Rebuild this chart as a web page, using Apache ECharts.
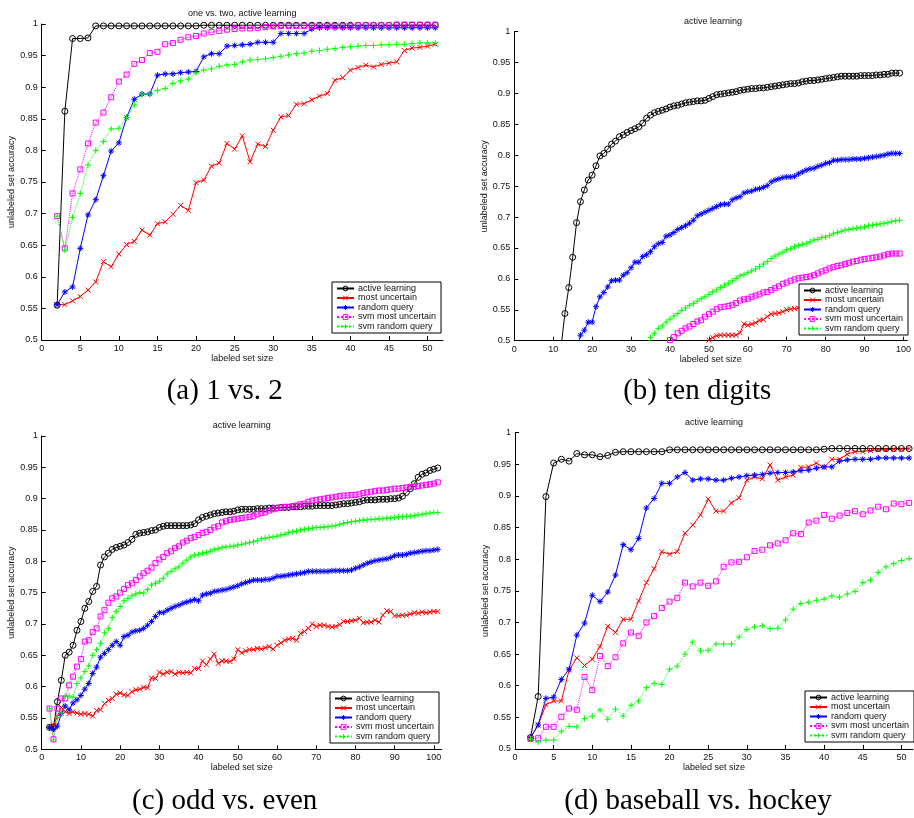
<!DOCTYPE html>
<html>
<head>
<meta charset="utf-8">
<script src="https://cdn.jsdelivr.net/npm/echarts@6/dist/echarts.min.js"></script>
<style>
  html, body { margin: 0; background: #fff; }
  #chart { width: 914px; height: 818px; }
</style>
</head>
<body>
<div id="chart"></div>
<script>
const seriesNames = ['active learning', 'most uncertain', 'random query', 'svm most uncertain', 'svm random query'];
const xTicks50 = [0, 5, 10, 15, 20, 25, 30, 35, 40, 45, 50];
const xTicks100 = [0, 10, 20, 30, 40, 50, 60, 70, 80, 90, 100];

// (a) 1 vs. 2 -- every curve starts at labeled set size 2
const aStart = 2;
const aActive = [0.555, 0.862, 0.977, 0.977, 0.978, 0.997, 0.997, 0.997, 0.997, 0.997,
  0.997, 0.997, 0.997, 0.997, 0.997, 0.997, 0.997, 0.997, 0.997, 0.998,
  0.998, 0.998, 0.998, 0.998, 0.998, 0.998, 0.998, 0.998, 0.998, 0.998,
  0.998, 0.998, 0.998, 0.998, 0.998, 0.998, 0.998, 0.998, 0.998, 0.998,
  0.998, 0.998, 0.998, 0.998, 0.998, 0.998, 0.998, 0.998, 0.998, 0.998];
const aUncertain = [0.556, 0.556, 0.562, 0.569, 0.579, 0.592, 0.624, 0.616, 0.636, 0.651,
  0.656, 0.674, 0.666, 0.684, 0.687, 0.699, 0.713, 0.705, 0.749, 0.753,
  0.775, 0.780, 0.811, 0.802, 0.823, 0.782, 0.810, 0.806, 0.832, 0.853,
  0.855, 0.873, 0.874, 0.880, 0.886, 0.890, 0.911, 0.915, 0.927, 0.931,
  0.935, 0.932, 0.936, 0.938, 0.940, 0.958, 0.962, 0.963, 0.965, 0.968];
const aRandom = [0.556, 0.576, 0.584, 0.645, 0.698, 0.722, 0.760, 0.799, 0.812, 0.852,
  0.881, 0.889, 0.889, 0.919, 0.921, 0.921, 0.923, 0.924, 0.925, 0.948,
  0.953, 0.953, 0.965, 0.966, 0.967, 0.968, 0.971, 0.971, 0.971, 0.985,
  0.985, 0.985, 0.985, 0.992, 0.994, 0.994, 0.994, 0.994, 0.994, 0.994,
  0.994, 0.994, 0.994, 0.994, 0.994, 0.994, 0.994, 0.994, 0.994, 0.994];
const aSvmUncertain = [0.696, 0.645, 0.732, 0.770, 0.811, 0.844, 0.860, 0.884, 0.909, 0.920,
  0.937, 0.943, 0.954, 0.956, 0.968, 0.970, 0.975, 0.979, 0.981, 0.985,
  0.987, 0.989, 0.991, 0.992, 0.993, 0.993, 0.994, 0.995, 0.996, 0.997,
  0.997, 0.997, 0.997, 0.997, 0.997, 0.997, 0.997, 0.997, 0.997, 0.998,
  0.998, 0.998, 0.998, 0.998, 0.999, 0.999, 0.999, 0.999, 0.999, 0.999];
const aSvmRandom = [0.696, 0.642, 0.694, 0.732, 0.777, 0.800, 0.814, 0.834, 0.835, 0.852,
  0.872, 0.889, 0.889, 0.895, 0.898, 0.906, 0.910, 0.913, 0.923, 0.927,
  0.929, 0.933, 0.935, 0.936, 0.940, 0.943, 0.944, 0.945, 0.947, 0.949,
  0.951, 0.953, 0.954, 0.957, 0.958, 0.960, 0.961, 0.963, 0.964, 0.965,
  0.966, 0.966, 0.967, 0.967, 0.968, 0.968, 0.969, 0.970, 0.970, 0.970];

// (b) ten digits -- curves enter the visible range at different sizes
const bActiveStart = 12;
const bActive = [0.489, 0.544, 0.586, 0.635, 0.691, 0.725, 0.744, 0.760, 0.768, 0.783,
  0.799, 0.803, 0.810, 0.818, 0.823, 0.830, 0.833, 0.837, 0.840, 0.843,
  0.846, 0.852, 0.860, 0.865, 0.869, 0.871, 0.873, 0.875, 0.878, 0.880,
  0.881, 0.883, 0.885, 0.886, 0.887, 0.888, 0.888, 0.889, 0.892, 0.895,
  0.898, 0.899, 0.900, 0.901, 0.902, 0.903, 0.905, 0.906, 0.907, 0.908,
  0.908, 0.909, 0.909, 0.910, 0.911, 0.912, 0.913, 0.914, 0.915, 0.916,
  0.916, 0.917, 0.919, 0.920, 0.921, 0.921, 0.922, 0.923, 0.924, 0.925,
  0.926, 0.927, 0.928, 0.928, 0.928, 0.928, 0.928, 0.929, 0.929, 0.929,
  0.929, 0.930, 0.930, 0.931, 0.931, 0.933, 0.933, 0.933];
const bUncertainStart = 50;
const bUncertain = [0.501, 0.505, 0.508, 0.509, 0.509, 0.509, 0.509, 0.509, 0.513, 0.527,
  0.525, 0.527, 0.529, 0.533, 0.534, 0.539, 0.543, 0.544, 0.545, 0.547,
  0.550, 0.551, 0.552, 0.553, 0.555, 0.556, 0.557, 0.558, 0.559, 0.561,
  0.562, 0.563, 0.565, 0.566, 0.567, 0.568, 0.569, 0.570, 0.571, 0.572,
  0.573, 0.574, 0.575, 0.576, 0.577, 0.578, 0.579, 0.580, 0.581, 0.582];
const bRandomStart = 16;
const bRandom = [0.485, 0.509, 0.517, 0.530, 0.530, 0.555, 0.571, 0.578, 0.587, 0.597,
  0.598, 0.598, 0.606, 0.610, 0.618, 0.627, 0.627, 0.636, 0.639, 0.644,
  0.652, 0.657, 0.659, 0.669, 0.671, 0.675, 0.680, 0.683, 0.686, 0.690,
  0.695, 0.702, 0.705, 0.708, 0.711, 0.714, 0.717, 0.720, 0.721, 0.721,
  0.728, 0.731, 0.733, 0.739, 0.741, 0.742, 0.745, 0.746, 0.748, 0.751,
  0.757, 0.760, 0.762, 0.764, 0.765, 0.765, 0.766, 0.770, 0.773, 0.776,
  0.778, 0.779, 0.782, 0.784, 0.787, 0.788, 0.792, 0.792, 0.793, 0.793,
  0.793, 0.794, 0.794, 0.794, 0.795, 0.796, 0.797, 0.798, 0.799, 0.800,
  0.802, 0.803, 0.803, 0.803];
const bSvmUncertainStart = 40;
const bSvmUncertain = [0.501, 0.506, 0.512, 0.516, 0.520, 0.523, 0.527, 0.531, 0.533, 0.539,
  0.543, 0.547, 0.551, 0.554, 0.555, 0.556, 0.558, 0.561, 0.565, 0.567,
  0.568, 0.571, 0.573, 0.575, 0.578, 0.579, 0.582, 0.585, 0.588, 0.592,
  0.594, 0.597, 0.599, 0.601, 0.602, 0.603, 0.604, 0.606, 0.609, 0.612,
  0.614, 0.617, 0.619, 0.621, 0.622, 0.624, 0.626, 0.628, 0.629, 0.631,
  0.632, 0.633, 0.634, 0.635, 0.636, 0.638, 0.640, 0.641, 0.641, 0.641];
const bSvmRandomStart = 34;
const bSvmRandom = [0.494, 0.505, 0.512, 0.520, 0.524, 0.530, 0.535, 0.540, 0.544, 0.549,
  0.553, 0.557, 0.560, 0.564, 0.568, 0.571, 0.575, 0.579, 0.582, 0.586,
  0.590, 0.593, 0.597, 0.601, 0.605, 0.607, 0.610, 0.613, 0.616, 0.620,
  0.624, 0.628, 0.633, 0.637, 0.640, 0.643, 0.647, 0.649, 0.652, 0.654,
  0.656, 0.657, 0.660, 0.663, 0.664, 0.667, 0.668, 0.670, 0.673, 0.675,
  0.677, 0.679, 0.680, 0.681, 0.682, 0.683, 0.684, 0.686, 0.687, 0.688,
  0.689, 0.690, 0.691, 0.693, 0.694, 0.695];

// (c) odd vs. even -- sizes 2..101
const cStart = 2;
const cActive = [0.535, 0.535, 0.576, 0.610, 0.650, 0.655, 0.666, 0.690, 0.704, 0.725,
  0.736, 0.752, 0.760, 0.794, 0.807, 0.813, 0.819, 0.822, 0.824, 0.826,
  0.830, 0.835, 0.843, 0.845, 0.846, 0.847, 0.849, 0.850, 0.854, 0.856,
  0.857, 0.857, 0.857, 0.857, 0.857, 0.857, 0.858, 0.860, 0.866, 0.870,
  0.872, 0.874, 0.876, 0.877, 0.878, 0.879, 0.879, 0.880, 0.882, 0.883,
  0.883, 0.883, 0.883, 0.884, 0.884, 0.884, 0.885, 0.885, 0.885, 0.886,
  0.886, 0.886, 0.887, 0.887, 0.887, 0.888, 0.888, 0.888, 0.889, 0.889,
  0.889, 0.889, 0.889, 0.890, 0.891, 0.892, 0.892, 0.893, 0.894, 0.895,
  0.897, 0.898, 0.898, 0.898, 0.899, 0.899, 0.899, 0.900, 0.900, 0.901,
  0.904, 0.910, 0.916, 0.924, 0.934, 0.939, 0.941, 0.945, 0.947, 0.949];
const cUncertain = [0.535, 0.539, 0.552, 0.567, 0.560, 0.557, 0.560, 0.558, 0.556, 0.557,
  0.556, 0.553, 0.562, 0.563, 0.573, 0.578, 0.581, 0.588, 0.590, 0.587,
  0.586, 0.592, 0.595, 0.596, 0.599, 0.598, 0.614, 0.613, 0.623, 0.620,
  0.623, 0.624, 0.620, 0.623, 0.622, 0.623, 0.622, 0.629, 0.629, 0.641,
  0.635, 0.644, 0.652, 0.637, 0.641, 0.641, 0.640, 0.644, 0.659, 0.654,
  0.657, 0.659, 0.659, 0.661, 0.660, 0.662, 0.664, 0.660, 0.666, 0.670,
  0.674, 0.676, 0.677, 0.674, 0.685, 0.688, 0.693, 0.700, 0.696, 0.698,
  0.698, 0.696, 0.695, 0.696, 0.699, 0.704, 0.704, 0.705, 0.706, 0.709,
  0.702, 0.703, 0.703, 0.706, 0.703, 0.714, 0.721, 0.720, 0.713, 0.713,
  0.714, 0.714, 0.716, 0.718, 0.717, 0.719, 0.718, 0.719, 0.720, 0.720];
const cRandom = [0.535, 0.532, 0.537, 0.557, 0.569, 0.563, 0.574, 0.579, 0.586, 0.596,
  0.605, 0.621, 0.631, 0.647, 0.653, 0.659, 0.666, 0.672, 0.666, 0.680,
  0.682, 0.687, 0.689, 0.690, 0.693, 0.698, 0.704, 0.712, 0.718, 0.718,
  0.722, 0.725, 0.728, 0.730, 0.733, 0.735, 0.737, 0.739, 0.737, 0.746,
  0.748, 0.749, 0.752, 0.753, 0.754, 0.755, 0.757, 0.759, 0.761, 0.764,
  0.766, 0.768, 0.770, 0.770, 0.770, 0.771, 0.771, 0.773, 0.776, 0.776,
  0.777, 0.778, 0.779, 0.780, 0.781, 0.782, 0.784, 0.784, 0.784, 0.784,
  0.784, 0.784, 0.785, 0.785, 0.785, 0.785, 0.785, 0.786, 0.789, 0.791,
  0.794, 0.797, 0.799, 0.801, 0.802, 0.803, 0.804, 0.806, 0.809, 0.810,
  0.810, 0.811, 0.813, 0.814, 0.815, 0.816, 0.817, 0.817, 0.818, 0.819];
const cSvmUncertain = [0.565, 0.516, 0.565, 0.581, 0.581, 0.602, 0.616, 0.632, 0.644, 0.672,
  0.674, 0.687, 0.693, 0.712, 0.722, 0.734, 0.741, 0.744, 0.750, 0.756,
  0.762, 0.765, 0.770, 0.776, 0.781, 0.785, 0.790, 0.797, 0.803, 0.807,
  0.813, 0.816, 0.821, 0.824, 0.830, 0.833, 0.837, 0.839, 0.842, 0.845,
  0.847, 0.850, 0.854, 0.856, 0.862, 0.864, 0.866, 0.867, 0.868, 0.869,
  0.870, 0.871, 0.872, 0.875, 0.877, 0.878, 0.881, 0.883, 0.885, 0.886,
  0.887, 0.887, 0.888, 0.889, 0.891, 0.892, 0.895, 0.897, 0.898, 0.899,
  0.900, 0.901, 0.902, 0.903, 0.904, 0.905, 0.905, 0.906, 0.906, 0.907,
  0.909, 0.910, 0.911, 0.912, 0.913, 0.913, 0.914, 0.915, 0.916, 0.916,
  0.917, 0.918, 0.919, 0.919, 0.920, 0.921, 0.922, 0.923, 0.924, 0.926];
const cSvmRandom = [0.565, 0.515, 0.551, 0.558, 0.585, 0.585, 0.583, 0.605, 0.614, 0.624,
  0.633, 0.650, 0.659, 0.669, 0.686, 0.693, 0.710, 0.720, 0.728, 0.737,
  0.741, 0.745, 0.748, 0.750, 0.749, 0.755, 0.762, 0.765, 0.768, 0.773,
  0.780, 0.784, 0.788, 0.791, 0.797, 0.802, 0.807, 0.810, 0.811, 0.813,
  0.814, 0.816, 0.819, 0.820, 0.822, 0.823, 0.824, 0.824, 0.826, 0.827,
  0.829, 0.830, 0.831, 0.833, 0.836, 0.837, 0.838, 0.839, 0.840, 0.842,
  0.843, 0.846, 0.847, 0.848, 0.850, 0.851, 0.852, 0.853, 0.854, 0.854,
  0.855, 0.855, 0.856, 0.857, 0.859, 0.861, 0.862, 0.863, 0.864, 0.865,
  0.866, 0.866, 0.867, 0.867, 0.868, 0.868, 0.869, 0.869, 0.870, 0.871,
  0.871, 0.872, 0.872, 0.873, 0.874, 0.875, 0.876, 0.877, 0.878, 0.878];

// (d) baseball vs. hockey -- sizes 2..51
const dStart = 2;
const dActive = [0.518, 0.583, 0.899, 0.952, 0.958, 0.955, 0.967, 0.965, 0.965, 0.962,
  0.964, 0.969, 0.970, 0.970, 0.970, 0.970, 0.970, 0.970, 0.973, 0.973,
  0.973, 0.973, 0.973, 0.973, 0.973, 0.973, 0.973, 0.973, 0.973, 0.973,
  0.973, 0.973, 0.973, 0.973, 0.973, 0.973, 0.973, 0.973, 0.974, 0.975,
  0.975, 0.975, 0.975, 0.975, 0.975, 0.975, 0.975, 0.975, 0.975, 0.975];
const dUncertain = [0.518, 0.538, 0.570, 0.576, 0.576, 0.625, 0.644, 0.632, 0.642, 0.662,
  0.694, 0.684, 0.705, 0.705, 0.734, 0.763, 0.785, 0.812, 0.808, 0.812,
  0.841, 0.854, 0.870, 0.895, 0.876, 0.876, 0.889, 0.897, 0.925, 0.930,
  0.927, 0.949, 0.925, 0.930, 0.933, 0.945, 0.946, 0.952, 0.945, 0.958,
  0.958, 0.966, 0.970, 0.970, 0.972, 0.973, 0.973, 0.974, 0.974, 0.975];
const dRandom = [0.518, 0.538, 0.580, 0.582, 0.610, 0.626, 0.680, 0.699, 0.743, 0.733,
  0.748, 0.775, 0.823, 0.815, 0.833, 0.881, 0.896, 0.920, 0.920, 0.930,
  0.937, 0.925, 0.927, 0.927, 0.925, 0.925, 0.928, 0.930, 0.932, 0.933,
  0.934, 0.936, 0.937, 0.937, 0.938, 0.940, 0.941, 0.944, 0.946, 0.946,
  0.955, 0.957, 0.958, 0.958, 0.958, 0.960, 0.960, 0.960, 0.960, 0.960];
const dSvmUncertain = [0.516, 0.517, 0.535, 0.535, 0.551, 0.564, 0.562, 0.614, 0.593, 0.647,
  0.631, 0.645, 0.667, 0.684, 0.679, 0.700, 0.710, 0.723, 0.733, 0.739,
  0.763, 0.757, 0.763, 0.758, 0.765, 0.788, 0.795, 0.796, 0.803, 0.813,
  0.815, 0.822, 0.825, 0.830, 0.841, 0.840, 0.858, 0.861, 0.870, 0.864,
  0.869, 0.873, 0.876, 0.871, 0.877, 0.883, 0.879, 0.888, 0.887, 0.889];
const dSvmRandom = [0.516, 0.511, 0.514, 0.514, 0.528, 0.536, 0.535, 0.548, 0.552, 0.562,
  0.547, 0.563, 0.552, 0.569, 0.576, 0.597, 0.604, 0.602, 0.626, 0.631,
  0.650, 0.669, 0.655, 0.656, 0.666, 0.666, 0.666, 0.677, 0.689, 0.693,
  0.695, 0.690, 0.691, 0.704, 0.721, 0.730, 0.732, 0.735, 0.737, 0.742,
  0.740, 0.745, 0.749, 0.763, 0.767, 0.779, 0.788, 0.793, 0.798, 0.801];

// one style per method, in legend order (markers are hollow, thin strokes)
const looks = [
  { color: '#000000', symbol: 'circle', size: 6, dash: 'solid' },
  { color: '#ff0000', symbol: 'path://M0,0L10,10M10,0L0,10', size: 5, dash: 'solid' },
  { color: '#0000ff', symbol: 'path://M5,0L5,10M0,5L10,5M1.5,1.5L8.5,8.5M8.5,1.5L1.5,8.5', size: 6, dash: 'solid' },
  { color: '#ff00ff', symbol: 'rect', size: 5, dash: 'dotted' },
  { color: '#00ff00', symbol: 'path://M5,0L5,10M0,5L10,5', size: 6, dash: 'dotted' },
];

const panels = [
  {
    rect: { left: 41.7, top: 24, width: 401.3, height: 316 }, xMax: 52, ticks: xTicks50,
    title: 'one vs. two, active learning', caption: '(a) 1 vs. 2', captionY: 391,
    legend: { left: 332, top: 282 },
    curves: [[aStart, aActive], [aStart, aUncertain], [aStart, aRandom], [aStart, aSvmUncertain], [aStart, aSvmRandom]],
  },
  {
    rect: { left: 514.3, top: 31.7, width: 397.6, height: 309 }, xMax: 101, ticks: xTicks100,
    title: 'active learning', caption: '(b) ten digits', captionY: 391,
    legend: { left: 799, top: 284 },
    curves: [[bActiveStart, bActive], [bUncertainStart, bUncertain], [bRandomStart, bRandom],
      [bSvmUncertainStart, bSvmUncertain], [bSvmRandomStart, bSvmRandom]],
  },
  {
    rect: { left: 41.7, top: 436, width: 400, height: 313.3 }, xMax: 102, ticks: xTicks100,
    title: 'active learning', caption: '(c) odd vs. even', captionY: 801,
    legend: { left: 330, top: 692 },
    curves: [[cStart, cActive], [cStart, cUncertain], [cStart, cRandom], [cStart, cSvmUncertain], [cStart, cSvmRandom]],
  },
  {
    rect: { left: 515, top: 432.7, width: 398, height: 316.3 }, xMax: 51.5, ticks: xTicks50,
    title: 'active learning', caption: '(d) baseball vs. hockey', captionY: 801,
    legend: { left: 805, top: 691 },
    curves: [[dStart, dActive], [dStart, dUncertain], [dStart, dRandom], [dStart, dSvmUncertain], [dStart, dSvmRandom]],
  },
];

const font = 'Liberation Sans, Arial, sans-serif';
const grid = [], xAxis = [], yAxis = [], series = [], legend = [], graphic = [];

panels.forEach((p, i) => {
  grid.push(Object.assign({ containLabel: false }, p.rect));
  xAxis.push({
    gridIndex: i, type: 'value', min: 0, max: p.xMax,
    name: 'labeled set size', nameLocation: 'middle', nameGap: 13,
    nameTextStyle: { fontFamily: font, fontSize: 9, color: '#111' },
    axisLine: { onZero: false, lineStyle: { color: '#000', width: 1 } },
    axisTick: { inside: true, length: 4, customValues: p.ticks, lineStyle: { color: '#000' } },
    axisLabel: { customValues: p.ticks, margin: 4, fontFamily: font, fontSize: 9, color: '#111' },
    splitLine: { show: false },
  });
  yAxis.push({
    gridIndex: i, type: 'value', min: 0.5, max: 1, interval: 0.05,
    name: 'unlabeled set accuracy', nameLocation: 'middle', nameGap: 24,
    nameTextStyle: { fontFamily: font, fontSize: 9, color: '#111' },
    axisLine: { onZero: false, lineStyle: { color: '#000', width: 1 } },
    axisTick: { inside: true, length: 4, lineStyle: { color: '#000' } },
    axisLabel: { margin: 4, fontFamily: font, fontSize: 9, color: '#111' },
    splitLine: { show: false },
  });
  p.curves.forEach(([start, values], k) => {
    const look = looks[k];
    series.push({
      name: seriesNames[k], type: 'line', xAxisIndex: i, yAxisIndex: i,
      data: values.map((v, j) => [start + j, v]),
      clip: true, showAllSymbol: true,
      symbol: look.symbol, symbolSize: look.size,
      lineStyle: { color: look.color, width: 1, type: look.dash },
      itemStyle: { color: 'rgba(255,255,255,0)', borderColor: look.color, borderWidth: 1 },
      emphasis: { disabled: true },
    });
  });
  legend.push({
    left: p.legend.left, top: p.legend.top, orient: 'vertical',
    data: seriesNames, selectedMode: false,
    backgroundColor: '#fff', borderColor: '#000', borderWidth: 1, borderRadius: 0,
    padding: [2, 5, 2, 4], itemGap: 0.5, itemWidth: 17, itemHeight: 6,
    itemStyle: { borderWidth: 1 },
    textStyle: { fontFamily: font, fontSize: 9, color: '#111', padding: [0, 0, 0, -1] },
  });
  graphic.push({
    type: 'text', x: p.rect.left + p.rect.width / 2, y: p.rect.top - 10,
    style: { text: p.title, font: '9px ' + font, fill: '#111', textAlign: 'center', textVerticalAlign: 'middle' },
  });
  graphic.push({
    type: 'text', x: p.rect.left + 183, y: p.captionY,
    style: { text: p.caption, font: '29px "Liberation Serif", "Times New Roman", serif', fill: '#000', textAlign: 'center', textVerticalAlign: 'middle' },
  });
});

const chart = echarts.init(document.getElementById('chart'), null, { renderer: 'canvas' });
chart.setOption({ animation: false, backgroundColor: '#fff', grid, xAxis, yAxis, series, legend, graphic });
</script>
</body>
</html>
